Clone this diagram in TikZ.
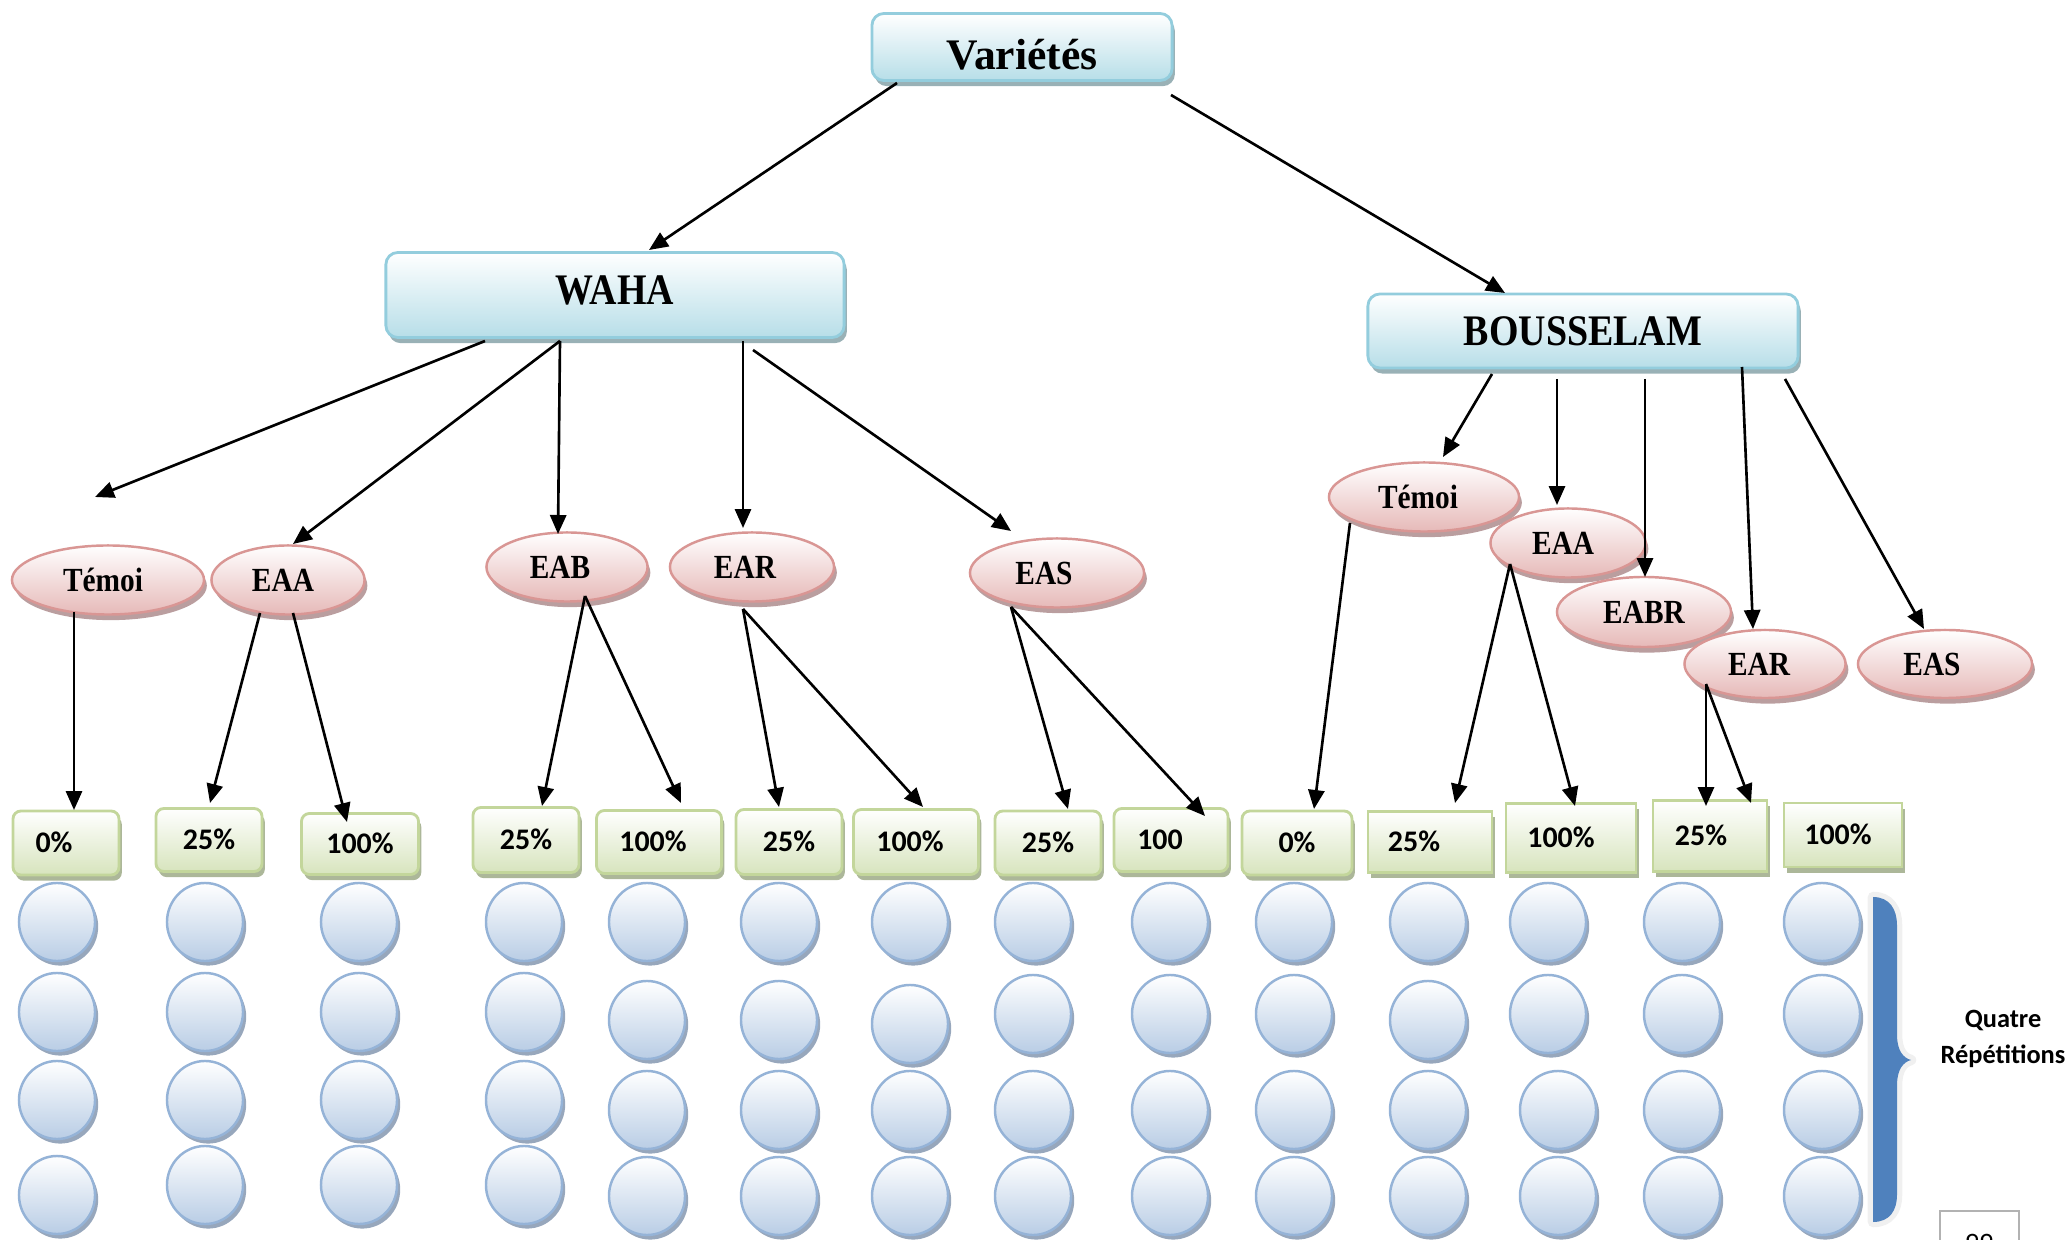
\documentclass[tikz,border=0pt]{standalone}
\usepackage{fontspec}
\setmainfont{Liberation Serif}
\newfontfamily\serifc[FakeStretch=0.87]{Liberation Serif}
\newfontfamily\calfont{Carlito}
\usetikzlibrary{shapes.geometric,shadows,calc,arrows.meta}
\definecolor{tbord}{HTML}{93CDDD}
\definecolor{tfill}{HTML}{B7DEE8}
\definecolor{tshad}{HTML}{8EA8AE}
\definecolor{pbord}{HTML}{D99694}
\definecolor{pfill}{HTML}{E6B9B8}
\definecolor{pshad}{HTML}{B39495}
\definecolor{gbord}{HTML}{C3D69B}
\definecolor{gfill}{HTML}{D7E4BD}
\definecolor{gshad}{HTML}{A3AF8E}
\definecolor{cbord}{HTML}{95B3D7}
\definecolor{cfill}{HTML}{B9CDE5}
\definecolor{cshad}{HTML}{8C9DB5}
\definecolor{bracecol}{HTML}{4F81BD}
\newcommand\offx[2]{\makebox[0pt]{\hspace*{#1}#2}}
\tikzset{
  titlebox/.style={rectangle, rounded corners=0.12cm, draw=tbord, line width=0.8pt,
    top color=white, bottom color=tfill, inner sep=0pt,
    drop shadow={shadow xshift=0.8pt, shadow yshift=-1.6pt, fill=tshad, opacity=0.9},
    font=\fontsize{12.4}{14}\selectfont\bfseries, text height=8.2pt, text depth=0pt},
  pinkell/.style={ellipse, draw=pbord, line width=0.7pt, top color=white, bottom color=pfill,
    inner sep=0pt,
    drop shadow={shadow xshift=0.8pt, shadow yshift=-1.6pt, fill=pshad, opacity=0.9},
    font=\serifc\fontsize{9.6}{11}\selectfont\bfseries, text height=6.4pt, text depth=0pt},
  gbox/.style={rectangle, rounded corners=0.08cm, draw=gbord, line width=0.8pt,
    top color=white, bottom color=gfill, inner sep=0pt,
    drop shadow={shadow xshift=0.8pt, shadow yshift=-1.6pt, fill=gshad, opacity=0.9},
    font=\calfont\fontsize{8.5}{10}\selectfont\bfseries, text height=5.4pt, text depth=0pt},
  gsq/.style={gbox, sharp corners},
  cir/.style={ellipse, draw=cbord, line width=0.7pt, top color=white, bottom color=cfill,
    minimum width=0.76cm, minimum height=0.78cm, inner sep=0pt,
    drop shadow={shadow xshift=0.9pt, shadow yshift=-1.3pt, fill=cshad, opacity=0.9}},
  arr/.style={-{Triangle[length=5.4pt,width=4.6pt]}, line width=0.75pt, black}
}
\begin{document}
\begin{tikzpicture}[x=0.01cm,y=-0.01cm]
\useasboundingbox (0,0) rectangle (2072,1240);
\clip (0,0) rectangle (2072,1240);

% title boxes
\node[titlebox, minimum width=3.00cm, minimum height=0.67cm, text height=12.6pt] (var) at (1022,47) {Variétés};
\node[titlebox, minimum width=4.58cm, minimum height=0.85cm, text depth=3pt] (waha) at (615,295) {\serifc WAHA};
\node[titlebox, minimum width=4.30cm, minimum height=0.74cm] (bous) at (1583,331) {\serifc BOUSSELAM};

% WAHA treatments
\node[pinkell, minimum width=1.92cm, minimum height=0.69cm] (temoiW) at (108,580) {\offx{-0.10cm}{Témoi}};
\node[pinkell, minimum width=1.53cm, minimum height=0.69cm] (eaaW) at (288,580) {\offx{-0.10cm}{EAA}};
\node[pinkell, minimum width=1.61cm, minimum height=0.69cm] (eab) at (567,567) {\offx{-0.14cm}{EAB}};
\node[pinkell, minimum width=1.64cm, minimum height=0.69cm] (ear) at (752,567) {\offx{-0.14cm}{EAR}};
\node[pinkell, minimum width=1.74cm, minimum height=0.69cm] (easW) at (1057,573) {\offx{-0.26cm}{EAS}};

% BOUSSELAM treatments
\node[pinkell, minimum width=1.90cm, minimum height=0.69cm] (temoiB) at (1424,497) {\offx{-0.12cm}{Témoi}};
\node[pinkell, minimum width=1.55cm, minimum height=0.69cm] (eaaB) at (1568,543) {\offx{-0.10cm}{EAA}};
\node[pinkell, minimum width=1.74cm, minimum height=0.70cm] (eabr) at (1644,612) {EABR};
\node[pinkell, minimum width=1.61cm, minimum height=0.68cm] (earB) at (1765,664) {\offx{-0.12cm}{EAR}};
\node[pinkell, minimum width=1.74cm, minimum height=0.68cm] (easB) at (1945,664) {\offx{-0.26cm}{EAS}};

% doses
\node[gbox, minimum width=1.06cm, minimum height=0.64cm] (p1) at (66,843) {\offx{-0.24cm}{0\%}};
\node[gbox, minimum width=1.06cm, minimum height=0.63cm] (p2) at (209,840) {25\%};
\node[gbox, minimum width=1.17cm, minimum height=0.61cm] (p3) at (360,844) {100\%};
\node[gbox, minimum width=1.06cm, minimum height=0.65cm] (p4) at (526,840) {25\%};
\node[gbox, minimum width=1.25cm, minimum height=0.63cm] (p5) at (659,842) {\offx{-0.12cm}{100\%}};
\node[gbox, minimum width=1.06cm, minimum height=0.65cm] (p6) at (789,842) {25\%};
\node[gbox, minimum width=1.25cm, minimum height=0.65cm] (p7) at (916,842) {\offx{-0.12cm}{100\%}};
\node[gbox, minimum width=1.06cm, minimum height=0.64cm] (p8) at (1048,843) {25\%};
\node[gbox, minimum width=1.14cm, minimum height=0.63cm] (p9) at (1171,840) {\offx{-0.22cm}{100}};
\node[gbox, minimum width=1.10cm, minimum height=0.64cm] (p10) at (1297,843) {0\%};
\node[gsq, minimum width=1.24cm, minimum height=0.61cm] (p11) at (1430,842) {\offx{-0.32cm}{25\%}};
\node[gsq, minimum width=1.30cm, minimum height=0.69cm] (p12) at (1571,838) {\offx{-0.20cm}{100\%}};
\node[gsq, minimum width=1.14cm, minimum height=0.71cm] (p13) at (1710,836) {\offx{-0.18cm}{25\%}};
\node[gsq, minimum width=1.18cm, minimum height=0.64cm] (p14) at (1843,835) {\offx{-0.10cm}{100\%}};

% repetitions
\foreach \i/\x/\ya/\yb/\yc/\yd in {1/57/922/1012/1100/1195, 2/205/922/1012/1100/1185,
  3/359/922/1012/1100/1185, 4/524/922/1012/1100/1185, 5/647/922/1020/1110/1196,
  6/779/922/1020/1110/1196, 7/910/922/1024/1110/1196, 8/1033/922/1014/1110/1196,
  9/1170/922/1014/1110/1196, 10/1294/922/1014/1110/1196, 11/1428/922/1020/1110/1196,
  13/1682/922/1014/1110/1196, 14/1822/922/1014/1110/1196}{
  \node[cir] (c\i-1) at (\x,\ya) {};
  \node[cir] (c\i-2) at (\x,\yb) {};
  \node[cir] (c\i-3) at (\x,\yc) {};
  \node[cir] (c\i-4) at (\x,\yd) {};
}
\node[cir] (c12-1) at (1548,922) {};
\node[cir] (c12-2) at (1548,1014) {};
\node[cir] (c12-3) at (1558,1110) {};
\node[cir] (c12-4) at (1558,1196) {};

% arrows from Variétés
\draw[arr] ($(var)+(-125,36)$) -- ($(waha)+(34,-45)$);
\draw[arr] ($(var)+(149,48)$) -- ($(bous)+(-78,-38)$);

% arrows from WAHA
\draw[arr] ($(waha)+(-130,46)$) -- ($(temoiW)+(-13,-83)$);
\draw[arr] ($(waha)+(-55,46)$) -- ($(eaaW)+(5,-36)$);
\draw[arr] ($(waha)+(-55,46)$) -- ($(eab)+(-9,-33)$);
\draw[arr] ($(waha)+(128,46)$) -- ($(ear)+(-9,-39)$);
\draw[arr] ($(waha)+(138,55)$) -- ($(easW)+(-46,-42)$);

% arrows from BOUSSELAM
\draw[arr] ($(bous)+(-91,43)$) -- ($(temoiB)+(19,-40)$);
\draw[arr] ($(bous)+(-26,48)$) -- ($(eaaB)+(-11,-38)$);
\draw[arr] ($(bous)+(62,48)$) -- ($(eabr)+(1,-35)$);
\draw[arr] ($(bous)+(159,36)$) -- ($(earB)+(-12,-35)$);
\draw[arr] ($(bous)+(202,48)$) -- ($(easB)+(-21,-35)$);

% arrows to doses
\draw[arr] ($(temoiW)+(-34,32)$) -- ($(p1)+(8,-33)$);
\draw[arr] ($(eaaW)+(-28,33)$) -- ($(p2)+(1,-37)$);
\draw[arr] ($(eaaW)+(5,33)$) -- ($(p3)+(-13,-22)$);
\draw[arr] ($(eab)+(18,29)$) -- ($(p4)+(16,-34)$);
\draw[arr] ($(eab)+(18,29)$) -- ($(p5)+(22,-39)$);
\draw[arr] ($(ear)+(-9,42)$) -- ($(p6)+(-10,-35)$);
\draw[arr] ($(ear)+(-9,42)$) -- ($(p7)+(7,-35)$);
\draw[arr] ($(easW)+(-46,34)$) -- ($(p8)+(20,-34)$);
\draw[arr] ($(easW)+(-46,34)$) -- ($(p9)+(34,-24)$);
\draw[arr] ($(temoiB)+(-74,26)$) -- ($(p10)+(17,-34)$);
\draw[arr] ($(eaaB)+(-58,21)$) -- ($(p11)+(25,-39)$);
\draw[arr] ($(eaaB)+(-58,21)$) -- ($(p12)+(4,-32)$);
\draw[arr] ($(earB)+(-59,20)$) -- ($(p13)+(-4,-30)$);
\draw[arr] ($(earB)+(-59,20)$) -- ($(p13)+(41,-33)$);

% brace
\draw[gray!12, line width=3pt, line join=round]
  (1873,897) .. controls (1890,897) and (1897,910) .. (1897,925) -- (1897,1035)
  .. controls (1897,1050) and (1903,1058) .. (1911,1060)
  .. controls (1903,1062) and (1897,1070) .. (1897,1085) -- (1897,1195)
  .. controls (1897,1210) and (1890,1222) .. (1873,1222) -- cycle;
\fill[bracecol]
  (1873,897) .. controls (1890,897) and (1897,910) .. (1897,925) -- (1897,1035)
  .. controls (1897,1050) and (1903,1058) .. (1911,1060)
  .. controls (1903,1062) and (1897,1070) .. (1897,1085) -- (1897,1195)
  .. controls (1897,1210) and (1890,1222) .. (1873,1222) -- cycle;
\node[font=\calfont\fontsize{7.5}{10.2}\selectfont\bfseries, align=center] (rep) at (2003,1039) {Quatre\\Répétitions};

% page number
\draw[gray!60, line width=0.5pt] (1940,1211) rectangle (2019,1290);
\node[font=\calfont\fontsize{8}{9}\selectfont] (pg) at (1979,1243) {99};
\end{tikzpicture}
\end{document}
